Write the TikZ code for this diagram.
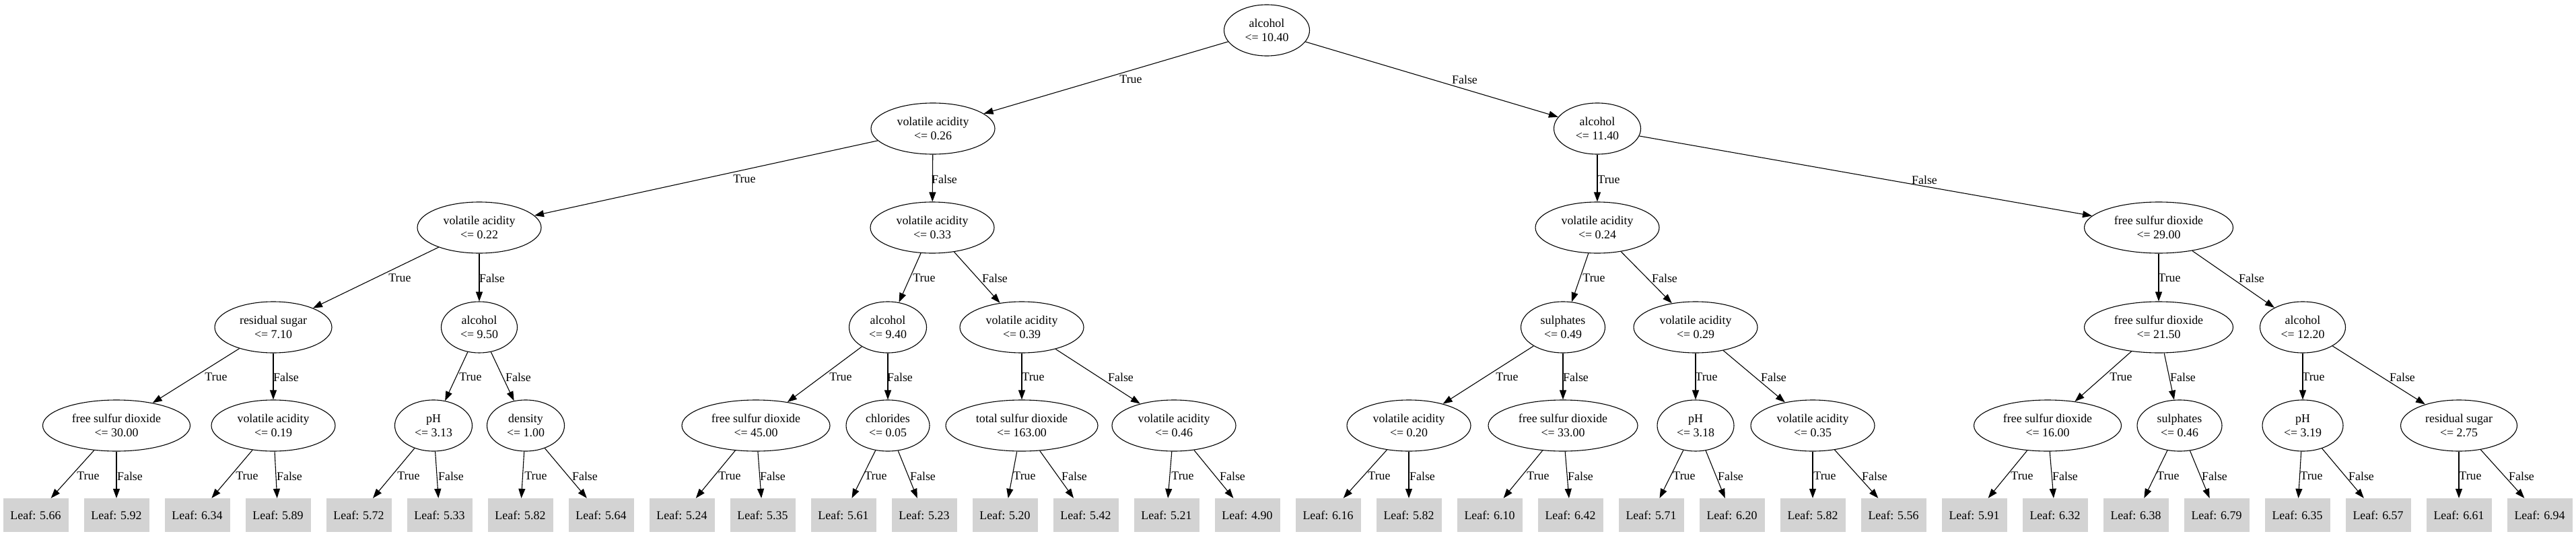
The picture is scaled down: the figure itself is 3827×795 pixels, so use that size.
\documentclass[tikz,border=0pt]{standalone}
\usepackage{fontspec}
\setmainfont{Liberation Serif}
\usetikzlibrary{shapes.geometric,arrows.meta}
\newcommand\tedge[5]{\draw[arr] (#1) -- (#2) node[lbl] at (#4,#5) {#3};}
\begin{document}
\begin{tikzpicture}[x=1pt,y=-1pt,
  every node/.style={font=\fontsize{17.9}{21}\selectfont},
  dec/.style={ellipse,draw,line width=1.1pt,inner sep=0pt,minimum height=76pt,minimum width=#1,align=center},
  dec/.default=184pt,
  leaf/.style={rectangle,fill={rgb,255:red,211;green,211;blue,211},minimum width=97pt,minimum height=50pt,inner sep=0pt},
  arr/.style={line width=1.1pt,-{Triangle[length=14pt,width=10pt]}},
  lbl/.style={inner sep=0pt}]
\useasboundingbox (0,0) rectangle (3827,795);
% level 0
\node[dec=127pt] (n0) at (1882,45) {alcohol\\<= 10.40};
% level 1
\node[dec] (n1) at (1386,191) {volatile acidity\\<= 0.26};
\node[dec=129pt] (n2) at (2373,191) {alcohol\\<= 11.40};
% level 2
\node[dec] (n3) at (712,338) {volatile acidity\\<= 0.22};
\node[dec] (n4) at (1385,338) {volatile acidity\\<= 0.33};
\node[dec] (n5) at (2373,338) {volatile acidity\\<= 0.24};
\node[dec=221pt] (n6) at (3207,338) {free sulfur dioxide\\<= 29.00};
% level 3
\node[dec=174pt] (n7) at (406,486) {residual sugar\\<= 7.10};
\node[dec=113pt] (n8) at (712,486) {alcohol\\<= 9.50};
\node[dec=115pt] (n9) at (1319,486) {alcohol\\<= 9.40};
\node[dec] (n10) at (1518,486) {volatile acidity\\<= 0.39};
\node[dec=125pt] (n11) at (2322,486) {sulphates\\<= 0.49};
\node[dec] (n12) at (2519,486) {volatile acidity\\<= 0.29};
\node[dec=221pt] (n13) at (3207,486) {free sulfur dioxide\\<= 21.50};
\node[dec=127pt] (n14) at (3421,486) {alcohol\\<= 12.20};
% level 4
\node[dec=219pt] (n15) at (173,632) {free sulfur dioxide\\<= 30.00};
\node[dec] (n16) at (406,632) {volatile acidity\\<= 0.19};
\node[dec=115pt] (n17) at (644,632) {pH\\<= 3.13};
\node[dec=115pt] (n18) at (781,632) {density\\<= 1.00};
\node[dec=220pt] (n19) at (1123,632) {free sulfur dioxide\\<= 45.00};
\node[dec=124pt] (n20) at (1319,632) {chlorides\\<= 0.05};
\node[dec=226pt] (n21) at (1518,632) {total sulfur dioxide\\<= 163.00};
\node[dec] (n22) at (1744,632) {volatile acidity\\<= 0.46};
\node[dec] (n23) at (2093,632) {volatile acidity\\<= 0.20};
\node[dec=222pt] (n24) at (2322,632) {free sulfur dioxide\\<= 33.00};
\node[dec=114pt] (n25) at (2519,632) {pH\\<= 3.18};
\node[dec] (n26) at (2693,632) {volatile acidity\\<= 0.35};
\node[dec=219pt] (n27) at (3042,632) {free sulfur dioxide\\<= 16.00};
\node[dec=126pt] (n28) at (3238,632) {sulphates\\<= 0.46};
\node[dec=120pt] (n29) at (3421,632) {pH\\<= 3.19};
\node[dec=173pt] (n30) at (3653,632) {residual sugar\\<= 2.75};
% leaves
\foreach \v [count=\i from 0] in {5.66,5.92,6.34,5.89,5.72,5.33,5.82,5.64,5.24,5.35,5.61,5.23,5.20,5.42,5.21,4.90,6.16,5.82,6.10,6.42,5.71,6.20,5.82,5.56,5.91,6.32,6.38,6.79,6.35,6.57,6.61,6.94}
  \node[leaf] (L\i) at (53+120*\i,765) {Leaf: \v};
% edges level 0-1
\tedge{n0}{n1}{True}{1680}{118}
\tedge{n0}{n2}{False}{2176}{118}
% level 1-2
\tedge{n1}{n3}{True}{1106}{266}
\tedge{n1}{n4}{False}{1403}{266}
\tedge{n2}{n5}{True}{2390}{267}
\tedge{n2}{n6}{False}{2859}{267}
% level 2-3
\tedge{n3}{n7}{True}{594}{413}
\tedge{n3}{n8}{False}{731}{413}
\tedge{n4}{n9}{True}{1373}{413}
\tedge{n4}{n10}{False}{1478}{413}
\tedge{n5}{n11}{True}{2368}{413}
\tedge{n5}{n12}{False}{2473}{413}
\tedge{n6}{n13}{True}{3223}{413}
\tedge{n6}{n14}{False}{3345}{413}
% level 3-4
\tedge{n7}{n15}{True}{321}{560}
\tedge{n7}{n16}{False}{425}{560}
\tedge{n8}{n17}{True}{699}{560}
\tedge{n8}{n18}{False}{770}{560}
\tedge{n9}{n19}{True}{1249}{560}
\tedge{n9}{n20}{False}{1337}{560}
\tedge{n10}{n21}{True}{1535}{560}
\tedge{n10}{n22}{False}{1665}{560}
\tedge{n11}{n23}{True}{2239}{560}
\tedge{n11}{n24}{False}{2341}{560}
\tedge{n12}{n25}{True}{2535}{560}
\tedge{n12}{n26}{False}{2635}{560}
\tedge{n13}{n27}{True}{3151}{560}
\tedge{n13}{n28}{False}{3243}{560}
\tedge{n14}{n29}{True}{3437}{560}
\tedge{n14}{n30}{False}{3569}{560}
% level 4-leaves
\tedge{n15}{L0}{True}{131}{707}
\tedge{n15}{L1}{False}{193}{707}
\tedge{n16}{L2}{True}{367}{707}
\tedge{n16}{L3}{False}{430}{707}
\tedge{n17}{L4}{True}{607}{707}
\tedge{n17}{L5}{False}{670}{707}
\tedge{n18}{L6}{True}{796}{707}
\tedge{n18}{L7}{False}{869}{707}
\tedge{n19}{L8}{True}{1084}{707}
\tedge{n19}{L9}{False}{1148}{707}
\tedge{n20}{L10}{True}{1301}{707}
\tedge{n20}{L11}{False}{1371}{707}
\tedge{n21}{L12}{True}{1522}{707}
\tedge{n21}{L13}{False}{1596}{707}
\tedge{n22}{L14}{True}{1757}{707}
\tedge{n22}{L15}{False}{1831}{707}
\tedge{n23}{L16}{True}{2049}{707}
\tedge{n23}{L17}{False}{2113}{707}
\tedge{n24}{L18}{True}{2285}{707}
\tedge{n24}{L19}{False}{2348}{707}
\tedge{n25}{L20}{True}{2502}{707}
\tedge{n25}{L21}{False}{2571}{707}
\tedge{n26}{L22}{True}{2711}{707}
\tedge{n26}{L23}{False}{2785}{707}
\tedge{n27}{L24}{True}{3004}{707}
\tedge{n27}{L25}{False}{3068}{707}
\tedge{n28}{L26}{True}{3221}{707}
\tedge{n28}{L27}{False}{3290}{707}
\tedge{n29}{L28}{True}{3434}{707}
\tedge{n29}{L29}{False}{3508}{707}
\tedge{n30}{L30}{True}{3670}{707}
\tedge{n30}{L31}{False}{3746}{707}
\end{tikzpicture}
\end{document}
